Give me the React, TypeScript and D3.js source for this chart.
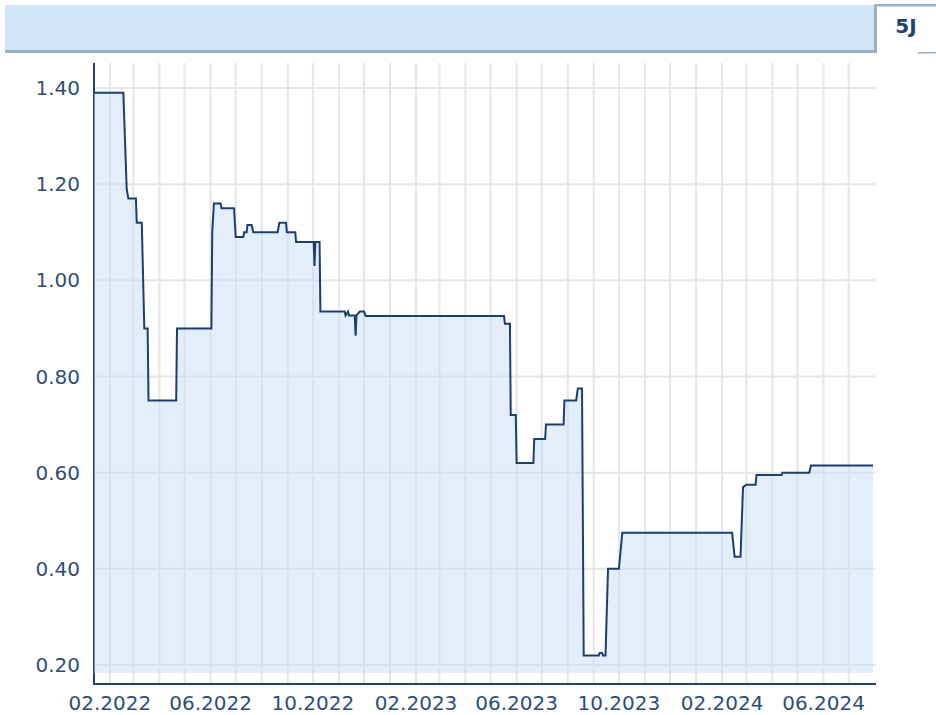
// App.tsx - 5J price history, step-like area chart
import React, { useEffect, useRef } from 'react';
import * as d3 from 'd3';

// price points (date, value)
const priceDates = [
  '2022-01-13', '2022-02-17', '2022-02-21', '2022-02-23', '2022-03-04', '2022-03-05',
  '2022-03-11', '2022-03-14', '2022-03-18', '2022-03-19', '2022-04-21', '2022-04-22',
  '2022-06-02', '2022-06-03', '2022-06-05', '2022-06-13', '2022-06-14', '2022-06-29',
  '2022-07-01', '2022-07-10', '2022-07-11', '2022-07-14', '2022-07-15', '2022-07-20',
  '2022-07-22', '2022-08-20', '2022-08-22', '2022-08-30', '2022-08-31', '2022-09-10',
  '2022-09-11', '2022-10-02', '2022-10-03', '2022-10-04', '2022-10-09', '2022-10-10',
  '2022-11-08', '2022-11-09', '2022-11-12', '2022-11-13', '2022-11-20', '2022-11-21',
  '2022-11-22', '2022-11-26', '2022-12-01', '2022-12-03', '2023-05-17', '2023-05-18',
  '2023-05-24', '2023-05-25', '2023-05-31', '2023-06-01', '2023-06-21', '2023-06-22',
  '2023-07-05', '2023-07-06', '2023-07-27', '2023-07-28', '2023-08-11', '2023-08-13',
  '2023-08-18', '2023-08-20', '2023-09-07', '2023-09-08', '2023-09-11', '2023-09-12',
  '2023-09-15', '2023-09-18', '2023-10-01', '2023-10-05', '2024-02-13', '2024-02-16',
  '2024-02-23', '2024-02-26', '2024-03-01', '2024-03-12', '2024-03-13', '2024-04-12',
  '2024-04-13', '2024-05-15', '2024-05-17', '2024-07-30',
];
const priceValues = [
  1.39, 1.39, 1.19, 1.17, 1.17, 1.12,
  1.12, 0.90, 0.90, 0.75, 0.75, 0.90,
  0.90, 1.10, 1.16, 1.16, 1.15, 1.15,
  1.09, 1.09, 1.10, 1.10, 1.115, 1.115,
  1.10, 1.10, 1.12, 1.12, 1.10, 1.10,
  1.08, 1.08, 1.03, 1.08, 1.08, 0.935,
  0.935, 0.927, 0.935, 0.927, 0.927, 0.885,
  0.927, 0.935, 0.935, 0.926, 0.926, 0.91,
  0.91, 0.72, 0.72, 0.62, 0.62, 0.67,
  0.67, 0.70, 0.70, 0.75, 0.75, 0.775,
  0.775, 0.22, 0.22, 0.225, 0.225, 0.22,
  0.22, 0.40, 0.40, 0.475, 0.475, 0.425,
  0.425, 0.57, 0.575, 0.575, 0.595, 0.595,
  0.60, 0.60, 0.615, 0.615,
];

const yTicks = [0.2, 0.4, 0.6, 0.8, 1.0, 1.2, 1.4];
const xTickLabels = ['02.2022', '06.2022', '10.2022', '02.2023', '06.2023', '10.2023', '02.2024', '06.2024'];
const periodLabel = '5J';

const W = 936;
const H = 715;
const FONT = '"DejaVu Sans", Verdana, sans-serif';

const App = () => {
  const svgRef = useRef(null);

  useEffect(() => {
    const svg = d3.select(svgRef.current);
    svg.selectAll('*').remove();

    const parse = d3.timeParse('%Y-%m-%d');
    const data = priceDates.map((d, i) => ({ date: parse(d), value: priceValues[i] }));

    const left = 94;
    const right = 876;
    const top = 63;
    const bottom = 673;
    const axisY = 684;

    const x = d3.scaleTime()
      .domain([parse('2022-01-13'), parse('2024-07-30')])
      .range([left, 873]);
    const y = d3.scaleLinear()
      .domain([0.2 - 8 / 480.8, 0.2 + 602 / 480.8])
      .range([bottom, top]);

    // header bar
    const head = svg.append('g');
    head.append('rect').attr('x', 5).attr('y', 5).attr('width', 870).attr('height', 46).attr('fill', '#cfe4f7');
    head.append('rect').attr('x', 5).attr('y', 50).attr('width', 872).attr('height', 3).attr('fill', '#9cb0c7');
    head.append('rect').attr('x', 874).attr('y', 4).attr('width', 3).attr('height', 49).attr('fill', '#9cb0c7');
    head.append('rect').attr('x', 874).attr('y', 4).attr('width', 62).attr('height', 2.5).attr('fill', '#9cb0c7');
    head.append('rect').attr('x', 918).attr('y', 52).attr('width', 18).attr('height', 1.5).attr('fill', '#9cb0c7');
    head.append('text')
      .attr('x', 906).attr('y', 33)
      .attr('text-anchor', 'middle')
      .attr('font-family', FONT).attr('font-weight', 'bold').attr('font-size', 20)
      .attr('fill', '#1d4474')
      .text(periodLabel);

    // grid
    const months = d3.timeMonth.range(parse('2022-02-01'), parse('2024-07-02'));
    svg.append('g').selectAll('line').data(months).enter().append('line')
      .attr('x1', d => x(d)).attr('x2', d => x(d))
      .attr('y1', top).attr('y2', axisY)
      .attr('stroke', '#e6e6e6').attr('stroke-width', 2);
    svg.append('g').selectAll('line').data(yTicks).enter().append('line')
      .attr('x1', left).attr('x2', right)
      .attr('y1', d => y(d)).attr('y2', d => y(d))
      .attr('stroke', '#e6e6e6').attr('stroke-width', 2);

    // axes lines
    svg.append('line').attr('x1', left).attr('x2', left).attr('y1', top).attr('y2', axisY + 1)
      .attr('stroke', '#1f4470').attr('stroke-width', 2);
    svg.append('line').attr('x1', left - 1).attr('x2', right).attr('y1', axisY).attr('y2', axisY)
      .attr('stroke', '#1f4470').attr('stroke-width', 2);

    // area + line
    const area = d3.area()
      .x(d => x(d.date))
      .y0(bottom)
      .y1(d => y(d.value));
    svg.append('path').datum(data)
      .attr('d', area)
      .attr('fill', '#c6ddf3').attr('fill-opacity', 0.5);

    const line = d3.line()
      .x(d => x(d.date))
      .y(d => y(d.value));
    svg.append('path').datum(data)
      .attr('d', line)
      .attr('fill', 'none')
      .attr('stroke', '#1c3f6e').attr('stroke-width', 2);

    // y labels
    svg.append('g').selectAll('text').data(yTicks).enter().append('text')
      .attr('x', 80).attr('y', d => y(d)).attr('dy', '0.35em')
      .attr('text-anchor', 'end')
      .attr('font-family', FONT).attr('font-size', 20)
      .attr('fill', '#2d4e7a')
      .text(d => d.toFixed(2));

    // x labels every 4 months, starting Feb 2022
    const labelDates = months.filter((d, i) => i % 4 === 0);
    svg.append('g').selectAll('text').data(labelDates).enter().append('text')
      .attr('x', d => x(d)).attr('y', 710)
      .attr('text-anchor', 'middle')
      .attr('font-family', FONT).attr('font-size', 20)
      .attr('fill', '#2d4e7a')
      .text((d, i) => xTickLabels[i]);
  }, []);

  return <svg ref={svgRef} width={W} height={H} style={{ position: 'absolute', left: 0, top: 0, background: '#fff' }}></svg>;
};

export default App;
